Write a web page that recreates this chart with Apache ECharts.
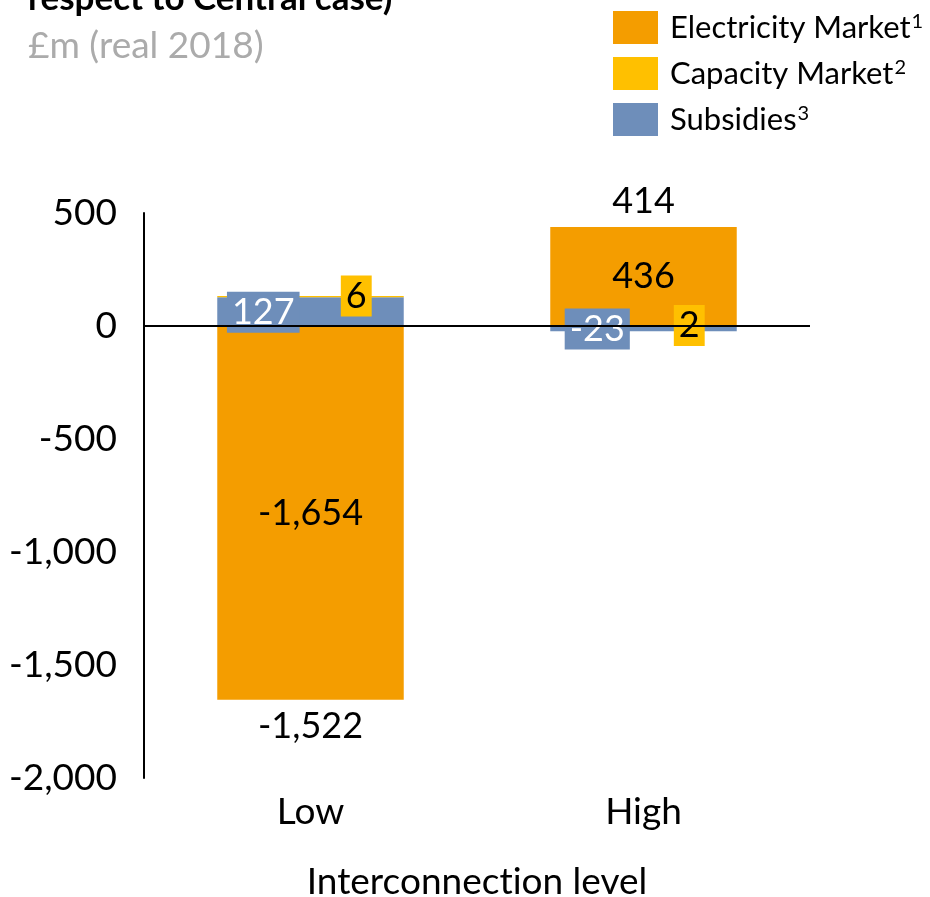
<!DOCTYPE html>
<html>
<head>
<meta charset="utf-8">
<script src="https://cdn.jsdelivr.net/npm/echarts@6/dist/echarts.min.js"></script>
<style>
  html, body { margin: 0; padding: 0; background: #ffffff; overflow: hidden; }
  #chart { width: 930px; height: 897px; }
</style>
</head>
<body>
<div id="chart"></div>
<script>
// Change in revenue by interconnection level, £m (real 2018)
const categories = ['Low', 'High'];
const subsidies = [127, -23];
const capacityMarket = [6, 2];
const electricityMarket = [-1654, 436];
const totals = [-1522, 414];
const yTicks = [-2000, 500, 500]; // min, max, interval

const legendOrder = ['Electricity Market', 'Capacity Market', 'Subsidies'];
const legendNotes = { 'Electricity Market': '1', 'Capacity Market': '2', 'Subsidies': '3' };

const COLORS = {
  'Electricity Market': '#F49D00',
  'Capacity Market': '#FFC000',
  'Subsidies': '#6E8EBA'
};
const FONT = 'Lato';
const fmt = v => v.toLocaleString('en-US');
// drawn as two rich-text runs split between "t" and "i" so Lato does not fuse them into a ligature
const xAxisTitle = '{n|Interconnect}{n|ion level}';

const chart = echarts.init(document.getElementById('chart'), null, { renderer: 'canvas', width: 930, height: 897 });

// boxed labels sitting across the zero line for the small segments
function boxedLabel(color, textColor, pos) {
  return {
    show: true,
    position: pos,
    align: 'center',
    verticalAlign: 'middle',
    color: textColor,
    fontFamily: FONT,
    fontSize: 36,
    backgroundColor: color,
    padding: [3, 5, 2, 5],
    lineHeight: 36,
    formatter: p => fmt(p.value)
  };
}

const subsidyData = subsidies.map(v => ({
  value: v,
  label: boxedLabel(COLORS['Subsidies'], '#ffffff', v >= 0 ? [46, 15] : [47, 3])
}));
const capacityData = capacityMarket.map(v => ({
  value: v,
  label: boxedLabel(COLORS['Capacity Market'], '#000000', [139, 0])
}));

// totals are written just beyond the long end of each bar
const totalAnchor = categories.map((c, i) => {
  const parts = [subsidies[i], capacityMarket[i], electricityMarket[i]];
  const pos = parts.filter(v => v > 0).reduce((a, b) => a + b, 0);
  const neg = parts.filter(v => v < 0).reduce((a, b) => a + b, 0);
  const up = totals[i] >= 0;
  return {
    value: up ? pos : neg,
    label: {
      show: true,
      position: up ? 'top' : 'bottom',
      distance: up ? 8 : 9,
      fontFamily: FONT,
      fontSize: 36,
      color: '#000000',
      formatter: () => fmt(totals[i])
    }
  };
});

const option = {
  animation: false,
  textStyle: { fontFamily: FONT },
  title: {
    text: 'respect to Central case)',
    subtext: '£m (real 2018)',
    left: 23,
    top: -24,
    itemGap: 12,
    textStyle: { fontFamily: FONT, fontWeight: 'bold', fontSize: 35, color: '#000000' },
    subtextStyle: { fontFamily: FONT, fontSize: 37, color: '#ABABAB' }
  },
  legend: {
    data: legendOrder,
    orient: 'vertical',
    left: 608,
    top: 6,
    itemWidth: 45,
    itemHeight: 33,
    itemGap: 13,
    icon: 'rect',
    selectedMode: false,
    formatter: name => name + '{sup|' + legendNotes[name] + '}',
    textStyle: {
      fontFamily: FONT,
      fontSize: 31,
      color: '#000000',
      padding: [0, 0, 0, 7],
      rich: {
        sup: { fontFamily: FONT, fontSize: 20, color: '#000000', verticalAlign: 'top', padding: [0, 0, 12, 1] }
      }
    }
  },
  grid: { left: 144, right: 120, top: 213, bottom: 119, containLabel: false, outerBoundsMode: 'none' },
  xAxis: {
    type: 'category',
    data: categories,
    axisLine: { show: false },
    axisTick: { show: false },
    axisLabel: { fontFamily: FONT, fontSize: 37, color: '#000000', margin: 16 },
    name: xAxisTitle,
    nameLocation: 'middle',
    nameGap: 86,
    nameTextStyle: {
      fontFamily: FONT, fontSize: 37, color: '#000000',
      rich: { n: { fontFamily: FONT, fontSize: 37, color: '#000000' } }
    }
  },
  yAxis: {
    type: 'value',
    min: yTicks[0],
    max: yTicks[1],
    interval: yTicks[2],
    axisLine: { show: true, lineStyle: { color: '#000000', width: 2 } },
    axisTick: { show: false },
    splitLine: { show: false },
    axisLabel: { fontFamily: FONT, fontSize: 37, color: '#000000', margin: 27, formatter: v => fmt(v) }
  },
  series: [
    {
      name: 'Subsidies', type: 'bar', stack: 'rev', barWidth: '56%',
      itemStyle: { color: COLORS['Subsidies'] },
      data: subsidyData,
      z: 3
    },
    {
      name: 'Capacity Market', type: 'bar', stack: 'rev', barWidth: '56%',
      itemStyle: { color: COLORS['Capacity Market'] },
      data: capacityData,
      z: 3
    },
    {
      name: 'Electricity Market', type: 'bar', stack: 'rev', barWidth: '56%',
      itemStyle: { color: COLORS['Electricity Market'] },
      label: {
        show: true, position: 'inside', fontFamily: FONT, fontSize: 36, color: '#000000',
        formatter: p => fmt(p.value)
      },
      data: electricityMarket,
      z: 2,
      markLine: {
        silent: true,
        symbol: 'none',
        label: { show: false },
        lineStyle: { color: '#000000', width: 2, type: 'solid' },
        data: [{ yAxis: 0 }]
      }
    },
    {
      name: 'Total', type: 'scatter', symbolSize: 0,
      itemStyle: { opacity: 1 },
      label: { color: '#000000', fontFamily: FONT, fontSize: 36 },
      data: totalAnchor,
      z: 5
    }
  ]
};

chart.setOption(option);
</script>
</body>
</html>
